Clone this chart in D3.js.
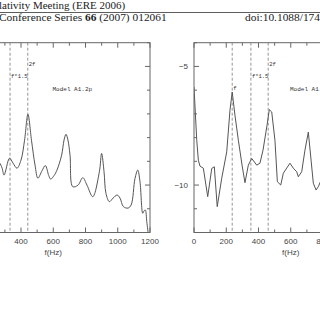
<!DOCTYPE html>
<html><head><meta charset="utf-8">
<script src="https://cdn.jsdelivr.net/npm/d3@7"></script>
<style>html,body{margin:0;padding:0;background:#fff;overflow:hidden}</style>
</head><body>
<svg id="c" width="320" height="320"></svg>
<script>
// ---- data ----
const headerLine1 = "lativity Meeting (ERE 2006)";
const headerLine2a = "Conference Series ";
const headerLine2b = "66";
const headerLine2c = " (2007) 012061";
const headerDoi = "doi:10.1088/174";

const leftHz  = [270,283,295,329,351,375,400,422,443,465,487,505,530,551,572,584,605,623,652,667,679,691,704,721,754,783,809,845,886,900,915,927,948,971,996,1014,1035,1064,1083,1107,1124,1138,1155,1163,1171,1180,1190];
const leftVal = [-9.08,-9.29,-9.58,-8.87,-9.08,-9.29,-8.95,-8.11,-7.02,-8.11,-9.16,-9.71,-9.4,-9.18,-9.6,-9.75,-9.6,-9.37,-8.74,-8.1,-7.86,-8.1,-8.74,-10.07,-10.0,-9.69,-10.0,-10.49,-9.44,-8.67,-9.44,-10.35,-10.70,-10.55,-10.42,-10.55,-10.91,-10.97,-10.84,-9.72,-9.37,-9.86,-11.19,-11.09,-11.05,-11.54,-12.1];

const rightHz  = [0,17,27,37,58,85,110,126,144,172,203,223,237,254,275,298,316,337,358,389,409,428,453,467,482,502,517,538,554,595,616,637,647,668,688,709,726,740,757,771,800];
const rightVal = [-5.87,-8.11,-8.95,-9.20,-9.29,-10.49,-9.30,-9.23,-10.91,-9.71,-8.60,-6.85,-6.08,-7.06,-8.11,-9.16,-9.90,-9.16,-8.88,-9.16,-9.08,-8.53,-7.48,-6.82,-6.92,-8.11,-9.86,-10.0,-9.50,-9.08,-9.29,-9.44,-9.65,-9.44,-8.53,-7.77,-8.95,-9.92,-10.21,-10.07,-9.6];

const leftMarkHz  = [332, 442];
const leftMarkLbl = ["f*1.5", "2f"];
const rightMarkHz  = [237, 353, 460];
const rightMarkLbl = ["f", "f*1.5", "2f"];
const leftModel = "Model A1.2p";
const rightModel = "Model A1.1p";
const xTickLabels = [0,200,400,600,800,1000,1200];
const yTickLabels = [-5,-10];
const xTitle = "f(Hz)";

// ---- drawing ----
const svg = d3.select("#c");
svg.append("rect").attr("width",320).attr("height",320).attr("fill","#fff");

const serif = "'Liberation Serif','Times New Roman',serif";
svg.append("text").attr("x",-1).attr("y",9).attr("font-family",serif).attr("font-size",11).attr("fill","#222").text(headerLine1);
const t2 = svg.append("text").attr("x",-1).attr("y",21).attr("font-family",serif).attr("font-size",11.4).attr("fill","#222");
t2.append("tspan").text(headerLine2a);
t2.append("tspan").attr("font-weight","bold").text(headerLine2b);
t2.append("tspan").text(headerLine2c);
svg.append("text").attr("x",320).attr("y",21).attr("text-anchor","end").attr("font-family",serif).attr("font-size",11.4).attr("fill","#222").text(headerDoi);
svg.append("line").attr("x1",0).attr("x2",320).attr("y1",12.5).attr("y2",12.5).attr("stroke","#333").attr("stroke-width",0.8);

const plotTop = 42.7, plotBottom = 232.5, pxPerHz = 0.16125;
const y = d3.scaleLinear().domain([-12,-4]).range([plotBottom, plotTop]);

function panel(x0, hz, val, markHz, markLbl, model, curve) {
  const x = d3.scaleLinear().domain([0,1200]).range([x0, x0 + 1200*pxPerHz]);
  const g = svg.append("g");
  const clipId = "clip" + Math.round(x0+100);
  g.append("clipPath").attr("id", clipId).append("rect")
    .attr("x", x(0)).attr("y", plotTop).attr("width", x(1200)-x(0)).attr("height", plotBottom-plotTop);
  g.selectAll(".mk").data(markHz).enter().append("line")
    .attr("x1", d=>x(d)).attr("x2", d=>x(d)).attr("y1", plotTop).attr("y2", plotBottom)
    .attr("stroke","#888").attr("stroke-width",0.9).attr("stroke-dasharray","3,2");
  const line = d3.line().x((d,i)=>x(hz[i])).y(d=>y(d)).curve(curve);
  g.append("path").attr("d", line(val)).attr("clip-path", `url(#${clipId})`)
    .attr("fill","none").attr("stroke","#555").attr("stroke-width",1);
  g.append("rect").attr("x", x(0)).attr("y", plotTop).attr("width", x(1200)-x(0)).attr("height", plotBottom-plotTop)
    .attr("fill","none").attr("stroke","#666").attr("stroke-width",1);
  d3.range(0,1201,100).forEach(v=>{
    const L = v%200===0 ? 5 : 3;
    g.append("line").attr("x1",x(v)).attr("x2",x(v)).attr("y1",plotBottom).attr("y2",plotBottom-L).attr("stroke","#666");
    g.append("line").attr("x1",x(v)).attr("x2",x(v)).attr("y1",plotTop).attr("y2",plotTop+L).attr("stroke","#666");
  });
  d3.range(-12,-3,1).forEach(v=>{
    const L = v%5===0 ? 5 : 3;
    g.append("line").attr("x1",x(0)).attr("x2",x(0)+L).attr("y1",y(v)).attr("y2",y(v)).attr("stroke","#666");
    g.append("line").attr("x1",x(1200)).attr("x2",x(1200)-L).attr("y1",y(v)).attr("y2",y(v)).attr("stroke","#666");
  });
  const sans = "'Liberation Sans',Arial,sans-serif";
  // only labels that fall inside the visible window
  g.selectAll(".xl").data(xTickLabels.filter(d=>x(d) > 8 && x(d) < 326)).enter().append("text")
    .attr("x", d=>x(d)).attr("y", 244).attr("text-anchor","middle")
    .attr("font-family",sans).attr("font-size",8).attr("fill","#444").text(d=>d);
  if (x(0) > 20) {
    g.selectAll(".yl").data(yTickLabels).enter().append("text")
      .attr("x", x(0)-6).attr("y", d=>y(d)+3).attr("text-anchor","end")
      .attr("font-family",sans).attr("font-size",8).attr("fill","#444").text(d=>"\u2212"+Math.abs(d));
  }
  g.append("text").attr("x", x(600)).attr("y", 255).attr("text-anchor","middle")
    .attr("font-family",sans).attr("font-size",8).attr("fill","#444").text(xTitle);
  const mono = "'Liberation Mono','DejaVu Sans Mono',monospace";
  markLbl.forEach((lbl,i)=>{
    const yy = lbl==="2f" ? 66 : (lbl==="f" ? 90 : 78);
    g.append("text").attr("x", x(markHz[i])+1).attr("y", yy)
      .attr("font-family",mono).attr("font-size",5.5).attr("fill","#333").text(lbl);
  });
  g.append("text").attr("x", x(0)+96).attr("y", 91)
    .attr("font-family",mono).attr("font-size",6).attr("fill","#333").text(model);
}

panel(-43.5, leftHz, leftVal, leftMarkHz, leftMarkLbl, leftModel, d3.curveCatmullRom.alpha(0.5));
panel(194, rightHz, rightVal, rightMarkHz, rightMarkLbl, rightModel, d3.curveLinear);
</script>
</body></html>
